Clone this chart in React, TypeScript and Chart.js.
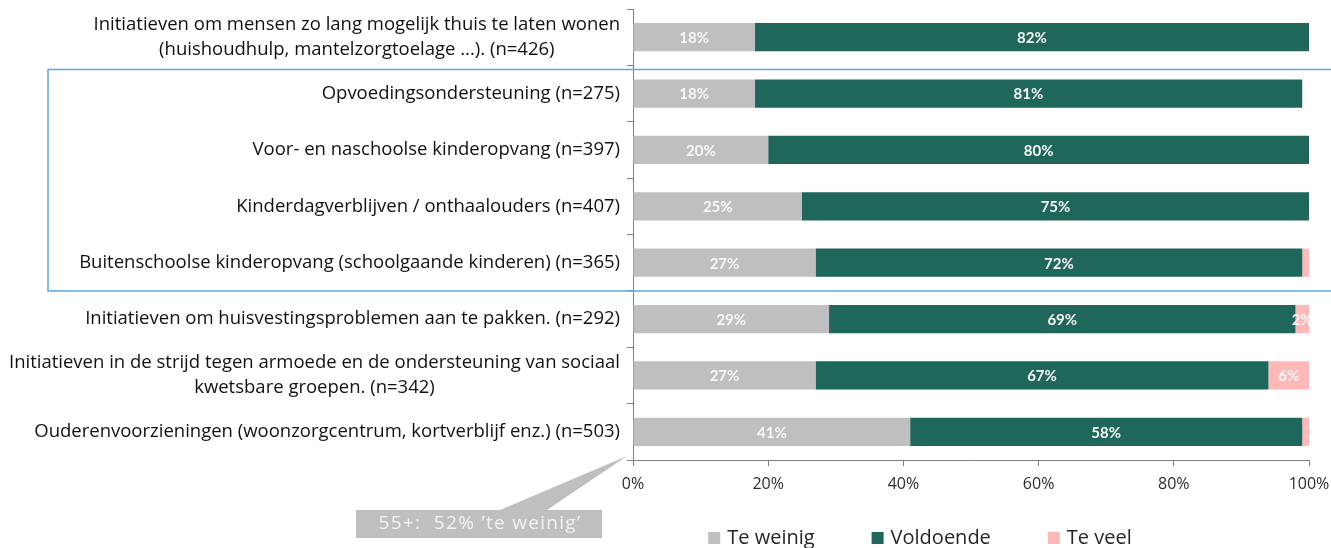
import React, { useEffect, useRef } from 'react';
import { Chart, registerables } from 'chart.js';

Chart.register(...registerables);

const categories: string[][] = [
  ['Initiatieven om mensen zo lang mogelijk thuis te laten wonen', '(huishoudhulp, mantelzorgtoelage ...). (n=426)'],
  ['Opvoedingsondersteuning (n=275)'],
  ['Voor- en naschoolse kinderopvang (n=397)'],
  ['Kinderdagverblijven / onthaalouders (n=407)'],
  ['Buitenschoolse kinderopvang (schoolgaande kinderen) (n=365)'],
  ['Initiatieven om huisvestingsproblemen aan te pakken. (n=292)'],
  ['Initiatieven in de strijd tegen armoede en de ondersteuning van sociaal', 'kwetsbare groepen. (n=342)'],
  ['Ouderenvoorzieningen (woonzorgcentrum, kortverblijf enz.) (n=503)'],
];

const seriesNames = ['Te weinig', 'Voldoende', 'Te veel'];
const teWeinig = [18, 18, 20, 25, 27, 29, 27, 41];
const voldoende = [82, 81, 80, 75, 72, 69, 67, 58];
const teVeel = [0, 0, 0, 0, 1, 2, 6, 1];
const xTickValues = [0, 20, 40, 60, 80, 100];
const calloutText = '55+:  52% \u2019te weinig\u2019';

const COLORS = ['#BFBFBF', '#1F665B', '#FFB8B8'];
const FONT = '"Open Sans", Lato, sans-serif';
const LABEL_FONT = 'Lato, "Open Sans", sans-serif';

const labelPlugin = {
  id: 'customDraw',
  afterDatasetsDraw(chart: any) {
    const ctx = chart.ctx;
    ctx.save();
    ctx.font = `bold 15px ${LABEL_FONT}`;
    ctx.fillStyle = '#F7F7F7';
    ctx.textAlign = 'center';
    ctx.textBaseline = 'middle';
    chart.data.datasets.forEach((ds: any, di: number) => {
      const meta = chart.getDatasetMeta(di);
      meta.data.forEach((el: any, i: number) => {
        const v = ds.data[i];
        if (v >= 2) {
          ctx.fillText(v + '%', (el.x + el.base) / 2, el.y + 1);
        }
      });
    });
    ctx.restore();
  },
  afterDraw(chart: any) {
    const ctx = chart.ctx;
    const yScale = chart.scales.y;
    const xScale = chart.scales.x;
    ctx.save();
    // category labels
    ctx.font = `18.5px ${FONT}`;
    ctx.fillStyle = '#111111';
    ctx.textAlign = 'center';
    ctx.textBaseline = 'middle';
    const right = yScale.right - 13;
    categories.forEach((lines, i) => {
      const y = yScale.getPixelForValue(i);
      const maxW = Math.max(...lines.map((l) => ctx.measureText(l).width));
      const cx = right - maxW / 2;
      lines.forEach((l, j) => {
        ctx.fillText(l, cx, y + (j - (lines.length - 1) / 2) * 25);
      });
    });

    // blue box
    const yTop = (yScale.getPixelForValue(0) + yScale.getPixelForValue(1)) / 2 + 4;
    const yBot = (yScale.getPixelForValue(4) + yScale.getPixelForValue(5)) / 2;
    ctx.strokeStyle = '#5BA8E0';
    ctx.lineWidth = 1.5;
    ctx.beginPath();
    ctx.moveTo(chart.width + 2, yTop);
    ctx.lineTo(48, yTop);
    ctx.lineTo(48, yBot);
    ctx.lineTo(chart.width + 2, yBot);
    ctx.stroke();

    // callout
    const tipX = xScale.getPixelForValue(0) - 6;
    const tipY = yScale.bottom - 4;
    ctx.fillStyle = '#BFBFBF';
    ctx.beginPath();
    ctx.moveTo(356, 510);
    ctx.lineTo(500, 510);
    ctx.lineTo(tipX, tipY);
    ctx.lineTo(547, 510);
    ctx.lineTo(602, 510);
    ctx.lineTo(602, 538);
    ctx.lineTo(356, 538);
    ctx.closePath();
    ctx.fill();
    ctx.font = `19px ${FONT}`;
    (ctx as any).letterSpacing = '1.3px';
    ctx.fillStyle = '#F2F2F2';
    ctx.textAlign = 'center';
    ctx.textBaseline = 'middle';
    ctx.fillText(calloutText, 480, 524);
    (ctx as any).letterSpacing = '0px';

    // legend
    ctx.font = `20px ${FONT}`;
    const box = 12;
    const gapBox = 7;
    const gapItem = 57;
    const widths = seriesNames.map((n) => ctx.measureText(n).width);
    const total = widths.reduce((a, w) => a + box + gapBox + w, 0) + gapItem * (seriesNames.length - 1);
    let lx = 920 - total / 2;
    const ly = 538;
    ctx.textAlign = 'left';
    seriesNames.forEach((n, i) => {
      ctx.fillStyle = COLORS[i];
      ctx.fillRect(lx, ly - box / 2, box, box);
      ctx.fillStyle = '#262626';
      ctx.fillText(n, lx + box + gapBox, ly);
      lx += box + gapBox + widths[i] + gapItem;
    });
    ctx.restore();
  },
};

function App() {
  const canvasRef = useRef<HTMLCanvasElement | null>(null);
  useEffect(() => {
    if (!canvasRef.current) return;
    const series = [teWeinig, voldoende, teVeel];
    const chart = new Chart(canvasRef.current, {
      type: 'bar',
      data: {
        labels: categories.map((c) => c.join(' ')),
        datasets: series.map((d, i) => ({
          label: seriesNames[i],
          data: d,
          backgroundColor: COLORS[i],
          borderWidth: 0,
          categoryPercentage: 1,
          barPercentage: 0.5,
        })),
      },
      options: {
        indexAxis: 'y',
        animation: false,
        responsive: true,
        maintainAspectRatio: false,
        layout: { padding: { top: 9, right: 22, left: 0, bottom: 0 } },
        plugins: {
          legend: { display: false },
          tooltip: { enabled: false },
        },
        scales: {
          x: {
            stacked: true,
            min: 0,
            max: 100,
            afterBuildTicks: (scale: any) => {
              scale.ticks = xTickValues.map((v) => ({ value: v }));
            },
            ticks: {
              callback: (v: any) => v + '%',
              font: { family: FONT, size: 16 },
              color: '#2B2B33',
              padding: 9,
              maxRotation: 0,
            },
            grid: {
              drawOnChartArea: false,
              drawTicks: true,
              tickLength: 6,
              color: '#7F7F7F',
            },
            border: { display: true, color: '#7F7F7F', width: 1 },
            afterFit: (scale: any) => {
              scale.height = 88;
              scale.paddingLeft = 0;
              scale.paddingRight = 0;
            },
          },
          y: {
            stacked: true,
            ticks: { display: false },
            grid: {
              drawOnChartArea: false,
              drawTicks: true,
              tickLength: 6,
              color: '#7F7F7F',
              offset: true,
            },
            border: { display: true, color: '#7F7F7F', width: 1 },
            afterFit: (scale: any) => {
              scale.width = 633;
            },
          },
        },
      },
      plugins: [labelPlugin],
    } as any);
    return () => chart.destroy();
  }, []);
  return (
    <div style={{ position: 'absolute', left: 0, top: 0, width: 1331, height: 548 }}>
      <canvas ref={canvasRef} />
    </div>
  );
}

export default App;
